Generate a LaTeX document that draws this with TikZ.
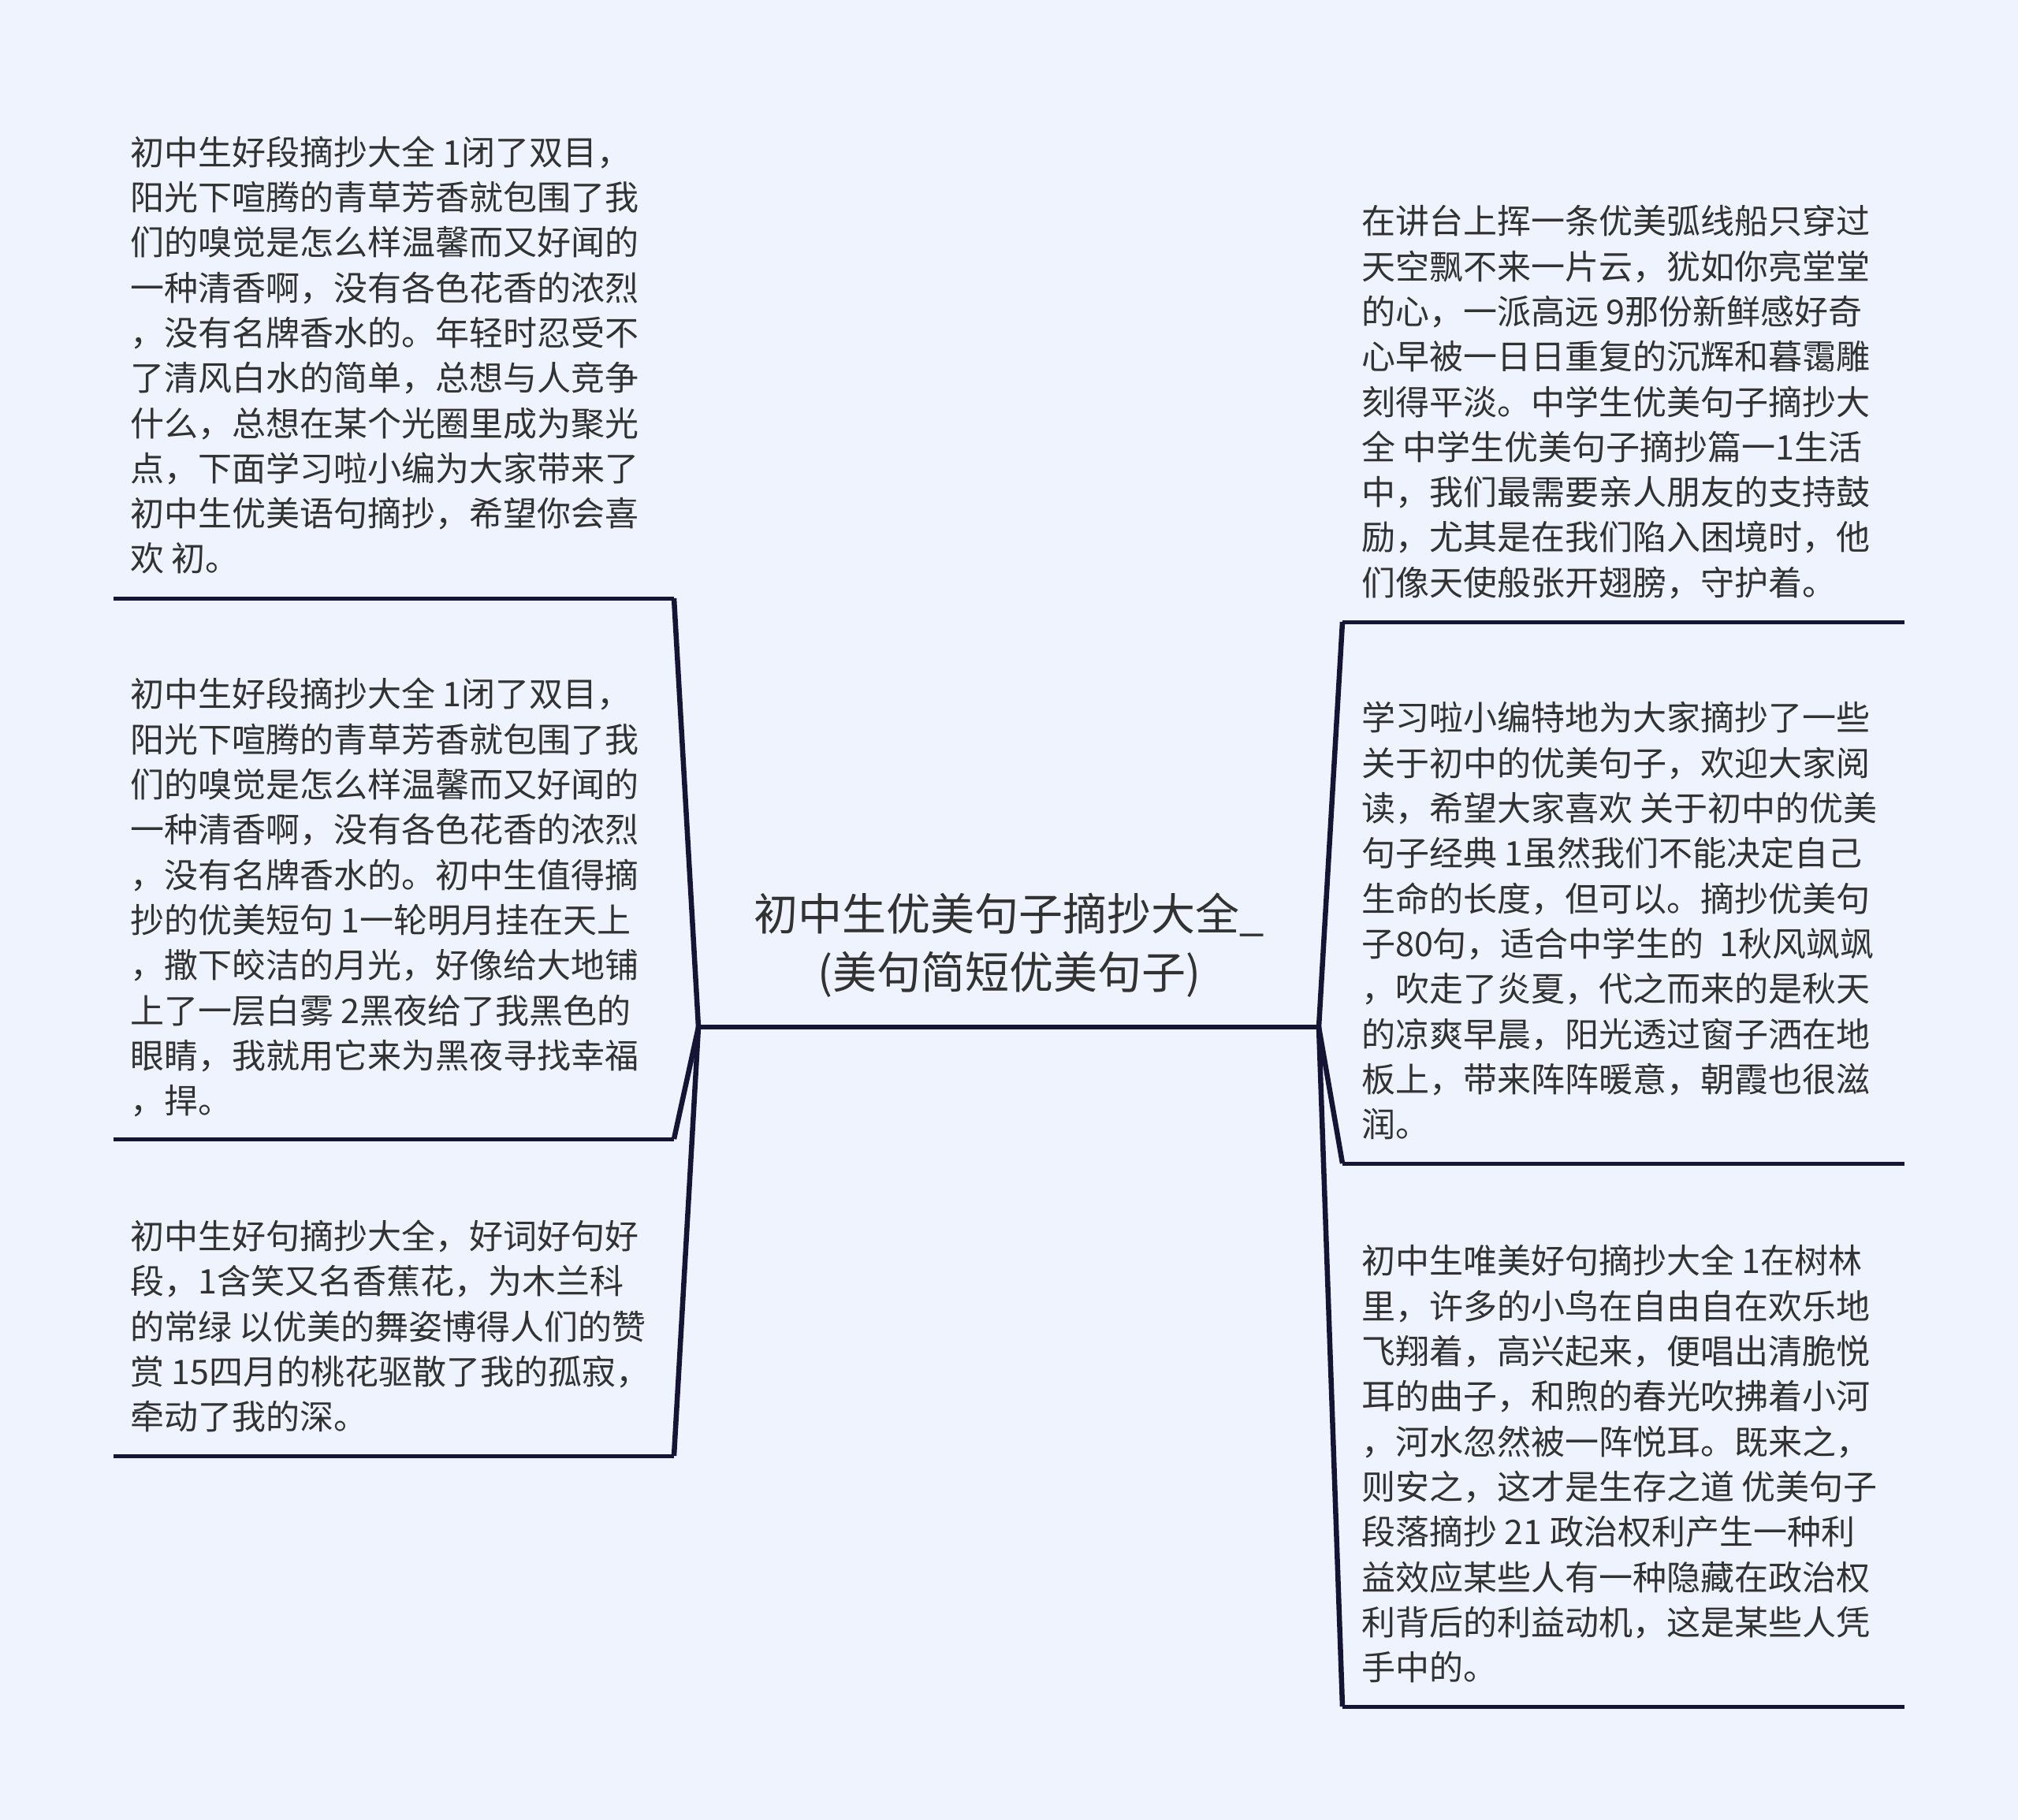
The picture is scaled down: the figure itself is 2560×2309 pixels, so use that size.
\documentclass[tikz,border=0pt]{standalone}
\usepackage{fontspec}
\newfontfamily\cjk{Noto Sans CJK SC}
\definecolor{bgc}{RGB}{238,243,254}
\definecolor{linec}{RGB}{22,20,52}
\definecolor{txtc}{RGB}{50,50,50}
\tikzset{
  leaf/.style={inner sep=0pt, anchor=west, align=left, text=txtc,
    font=\cjk\fontsize{43}{57.3}\selectfont},
  center/.style={inner sep=0pt, align=center, text=txtc,
    font=\cjk\fontsize{56}{73.5}\selectfont},
  conn/.style={draw=linec, line width=6.5pt},
  uline/.style={draw=linec, line width=5pt},
  cline/.style={draw=linec, line width=6.5pt},
}
\begin{document}
\begin{tikzpicture}[x=1pt,y=-1pt]
\fill[bgc] (0,0) rectangle (2560,2309);
\useasboundingbox (0,0) rectangle (2560,2309);

% center
\node[center] (c) at (1280,1199) {初中生优美句子摘抄大全\_\\(美句简短优美句子)};
\coordinate (cl) at (886,1303);
\coordinate (cr) at (1673,1303);

% left leaves
\node[leaf] (l1) at (165,450.6) {初中生好段摘抄大全 1闭了双目，\\阳光下喧腾的青草芳香就包围了我\\们的嗅觉是怎么样温馨而又好闻的\\一种清香啊，没有各色花香的浓烈\\，没有名牌香水的。年轻时忍受不\\了清风白水的简单，总想与人竞争\\什么，总想在某个光圈里成为聚光\\点，下面学习啦小编为大家带来了\\初中生优美语句摘抄，希望你会喜\\欢 初。};
\node[leaf] (l2) at (165,1138.8) {初中生好段摘抄大全 1闭了双目，\\阳光下喧腾的青草芳香就包围了我\\们的嗅觉是怎么样温馨而又好闻的\\一种清香啊，没有各色花香的浓烈\\，没有名牌香水的。初中生值得摘\\抄的优美短句 1一轮明月挂在天上\\，撒下皎洁的月光，好像给大地铺\\上了一层白雾 2黑夜给了我黑色的\\眼睛，我就用它来为黑夜寻找幸福\\，捍。};
\node[leaf] (l3) at (165,1682.5) {初中生好句摘抄大全，好词好句好\\段，1含笑又名香蕉花，为木兰科\\的常绿 以优美的舞姿博得人们的赞\\赏 15四月的桃花驱散了我的孤寂，\\牵动了我的深。};

% right leaves
\node[leaf] (r1) at (1727,510.2) {在讲台上挥一条优美弧线船只穿过\\天空飘不来一片云，犹如你亮堂堂\\的心，一派高远 9那份新鲜感好奇\\心早被一日日重复的沉辉和暮霭雕\\刻得平淡。中学生优美句子摘抄大\\全 中学生优美句子摘抄篇一1生活\\中，我们最需要亲人朋友的支持鼓\\励，尤其是在我们陷入困境时，他\\们像天使般张开翅膀，守护着。};
\node[leaf] (r2) at (1727,1168.2) {学习啦小编特地为大家摘抄了一些\\关于初中的优美句子，欢迎大家阅\\读，希望大家喜欢 关于初中的优美\\句子经典 1虽然我们不能决定自己\\生命的长度，但可以。摘抄优美句\\子80句，适合中学生的\ \ 1秋风飒飒\\，吹走了炎夏，代之而来的是秋天\\的凉爽早晨，阳光透过窗子洒在地\\板上，带来阵阵暖意，朝霞也很滋\\润。};
\node[leaf] (r3) at (1727,1857.2) {初中生唯美好句摘抄大全 1在树林\\里，许多的小鸟在自由自在欢乐地\\飞翔着，高兴起来，便唱出清脆悦\\耳的曲子，和煦的春光吹拂着小河\\，河水忽然被一阵悦耳。既来之，\\则安之，这才是生存之道 优美句子\\段落摘抄 21 政治权利产生一种利\\益效应某些人有一种隐藏在政治权\\利背后的利益动机，这是某些人凭\\手中的。};

% underline end points
\coordinate (l1a) at (144,759);  \coordinate (l1b) at (855,759);
\coordinate (l2a) at (144,1445); \coordinate (l2b) at (855,1445);
\coordinate (l3a) at (144,1847); \coordinate (l3b) at (855,1847);
\coordinate (r1a) at (1703,789); \coordinate (r1b) at (2416,789);
\coordinate (r2a) at (1703,1476); \coordinate (r2b) at (2416,1476);
\coordinate (r3a) at (1703,2165); \coordinate (r3b) at (2416,2165);

% underlines
\draw[cline] (cl) -- (cr);
\draw[uline] (l1a) -- (l1b);
\draw[uline] (l2a) -- (l2b);
\draw[uline] (l3a) -- (l3b);
\draw[uline] (r1a) -- (r1b);
\draw[uline] (r2a) -- (r2b);
\draw[uline] (r3a) -- (r3b);

% connectors
\draw[conn] (cl) -- (l1b);
\draw[conn] (cl) -- (l2b);
\draw[conn] (cl) -- (l3b);
\draw[conn] (cr) -- (r1a);
\draw[conn] (cr) -- (r2a);
\draw[conn] (cr) -- (r3a);
\end{tikzpicture}
\end{document}
